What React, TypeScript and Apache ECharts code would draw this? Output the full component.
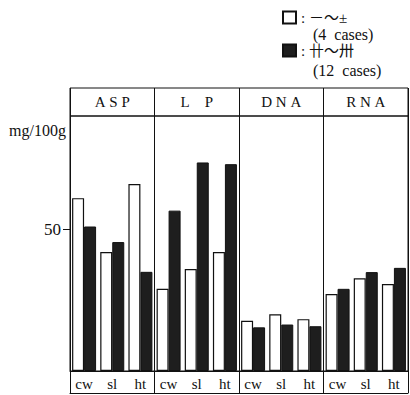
import React, { useEffect, useRef } from "react";
import * as echarts from "echarts";

const panels = ["A\u00a0S\u00a0P", "L\u00a0\u00a0\u00a0\u00a0P", "D\u00a0N\u00a0A", "R\u00a0N\u00a0A"];
const sites = ["cw", "sl", "ht"];
const categories = panels.flatMap((_, p) => sites.map((s) => `${s}-${p}`));
const lowGroupName = ":\u00a0\uff0d\u301c\u00b1";
const highGroupName = ":\u00a0\u5344\u301c\u5345";
const lowGroupCases = "(4\u00a0\u00a0cases)";
const highGroupCases = "(12\u00a0\u00a0cases)";
// ASP cw, sl, ht | LP cw, sl, ht | DNA cw, sl, ht | RNA cw, sl, ht
const lowValues = [61, 42, 66, 29, 36, 42, 17.7, 20, 18.3, 27.2, 32.7, 30.7];
const highValues = [51, 45.5, 35, 56.6, 73.6, 73, 15.4, 16.4, 15.8, 29, 34.9, 36.4];
const yTicks = [50];
const yUnit = "mg/100g";

const FONT = "'Liberation Serif', 'DejaVu Serif', 'Noto Sans CJK JP', serif";

export default function App() {
  const ref = useRef<HTMLDivElement>(null);
  useEffect(() => {
    if (!ref.current) return;
    const chart = echarts.init(ref.current, null, { renderer: "svg" });
    const every3 = (i: number) => i % 3 === 0;
    chart.setOption({
      animation: false,
      backgroundColor: "#fff",
      textStyle: { fontFamily: FONT, color: "#111" },
      legend: {
        left: 277,
        top: 5,
        orient: "vertical",
        itemWidth: 13,
        itemHeight: 12,
        itemGap: 18,
        icon: "rect",
        textStyle: { fontFamily: FONT, fontSize: 15, color: "#111" },
        data: [lowGroupName, highGroupName],
      },
      graphic: [
        { type: "text", left: 313, top: 26, style: { text: lowGroupCases, font: `16px ${FONT}`, fill: "#111" } },
        { type: "text", left: 313, top: 62, style: { text: highGroupCases, font: `16px ${FONT}`, fill: "#111" } },
      ],
      grid: [
        { left: 70, right: 2, top: 116, bottom: 24, show: true, borderColor: "#111", borderWidth: 1, backgroundColor: "transparent" },
        { left: 70, right: 2, top: 88, height: 28, show: true, borderColor: "#111", borderWidth: 1, backgroundColor: "transparent" },
      ],
      xAxis: [
        {
          type: "category",
          gridIndex: 0,
          data: categories,
          axisLine: { show: true, lineStyle: { color: "#111", width: 1 } },
          axisTick: { show: true, interval: every3, length: 22, lineStyle: { color: "#111" } },
          axisLabel: {
            interval: 0,
            margin: 5,
            fontSize: 15,
            fontFamily: FONT,
            color: "#111",
            formatter: (v: string) => v.split("-")[0],
          },
          splitLine: { show: true, interval: every3, lineStyle: { color: "#111", width: 1 } },
        },
        {
          type: "category",
          gridIndex: 0,
          data: categories,
          position: "bottom",
          offset: 22,
          axisLine: { show: true, lineStyle: { color: "#111", width: 1 } },
          axisTick: { show: false },
          axisLabel: { show: false },
        },
        {
          type: "category",
          gridIndex: 1,
          data: panels,
          axisLine: { show: false },
          axisTick: { show: false },
          axisLabel: { inside: true, margin: 7, fontSize: 15, fontFamily: FONT, color: "#111" },
          splitLine: { show: true, lineStyle: { color: "#111", width: 1 } },
        },
      ],
      yAxis: [
        {
          type: "value",
          gridIndex: 0,
          min: 0,
          max: 90,
          interval: 50,
          name: yUnit,
          nameLocation: "end",
          nameGap: -22,
          nameTextStyle: { fontFamily: FONT, fontSize: 16, color: "#111", align: "right", padding: [0, 4, 0, 0] },
          axisLine: { show: true, lineStyle: { color: "#111", width: 1 } },
          axisTick: { show: true, length: 7, customValues: yTicks, lineStyle: { color: "#111" } },
          axisLabel: { customValues: yTicks, fontSize: 17, fontFamily: FONT, color: "#111", margin: 9 },
          splitLine: { show: false },
        },
        {
          type: "value",
          gridIndex: 1,
          show: false,
        },
      ],
      series: [
        {
          name: lowGroupName,
          type: "bar",
          xAxisIndex: 0,
          yAxisIndex: 0,
          data: lowValues,
          barWidth: 12,
          barGap: "0%",
          itemStyle: { color: "#ffffff", borderColor: "#111", borderWidth: 1.2 },
        },
        {
          name: highGroupName,
          type: "bar",
          xAxisIndex: 0,
          yAxisIndex: 0,
          data: highValues,
          barWidth: 12,
          barGap: "0%",
          itemStyle: { color: "#1e1e1e", borderColor: "#111", borderWidth: 1 },
        },
      ],
    });
    return () => chart.dispose();
  }, []);
  return <div ref={ref} style={{ width: 410, height: 395, position: "absolute", left: 0, top: 0 }} />;
}
